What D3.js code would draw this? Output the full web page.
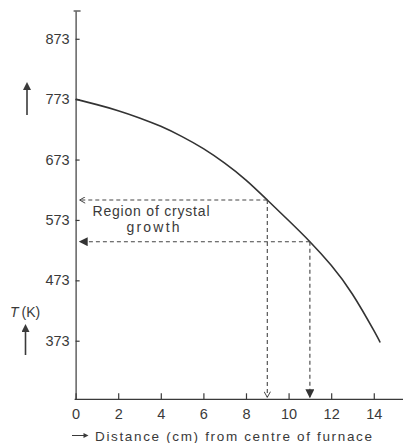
<!DOCTYPE html>
<html>
  <head>
    <meta charset="utf-8">
    <style>
    body { margin: 0; border: 0; overflow: hidden; background: #fff; }
    text { font-family: "Liberation Sans", Arial, sans-serif; fill: #3a3a3a; }
    .axis path, .axis line { fill: none; stroke: #3a3a3a; stroke-width: 1.2px; }
    .axis text { font-size: 14.5px; }
    .guide { fill: none; stroke: #444; stroke-width: 1.1px; stroke-dasharray: 4,3; }
    </style>
  </head>
  <body>
    <script src="https://cdnjs.cloudflare.com/ajax/libs/d3/7.8.5/d3.min.js"></script>
    <script>
// temperature profile
var distance = [0, 1, 2, 3, 4, 5, 6, 7, 8, 9, 10, 11, 12, 13, 14, 14.3];
var temperature = [773, 764, 754, 742, 728, 711, 691, 667, 639, 606, 572, 537, 498, 450, 390, 370];

var xTicks = [0, 2, 4, 6, 8, 10, 12, 14];
var yTicks = [373, 473, 573, 673, 773, 873];

// region of crystal growth: distance, temperature, arrow style
var growthDist = [9, 11];
var growthTemp = [606, 537];
var growthHead = ["open", "filled"];

var width = 403, height = 443;

var x = d3.scaleLinear().domain([0, 15.4]).range([75.6, 403.6]),
    y = d3.scaleLinear().domain([276, 919]).range([399.3, 11]);

var svg = d3.select("body").append("svg")
    .attr("width", width)
    .attr("height", height);

var defs = svg.append("defs");
defs.append("marker")
    .attr("id", "open")
    .attr("viewBox", "0 0 10 10")
    .attr("refX", 9).attr("refY", 5)
    .attr("markerWidth", 7).attr("markerHeight", 7)
    .attr("markerUnits", "userSpaceOnUse")
    .attr("orient", "auto")
  .append("path")
    .attr("d", "M1,0.5 L9,5 L1,9.5")
    .attr("fill", "none").attr("stroke", "#333").attr("stroke-width", 1.3);
defs.append("marker")
    .attr("id", "filled")
    .attr("viewBox", "0 0 10 10")
    .attr("refX", 9).attr("refY", 5)
    .attr("markerWidth", 9).attr("markerHeight", 9)
    .attr("markerUnits", "userSpaceOnUse")
    .attr("orient", "auto")
  .append("path")
    .attr("d", "M0,0 L10,5 L0,10 Z")
    .attr("fill", "#333");
defs.append("marker")
    .attr("id", "solid")
    .attr("viewBox", "0 0 10 10")
    .attr("refX", 5).attr("refY", 5)
    .attr("markerWidth", 8).attr("markerHeight", 8)
    .attr("markerUnits", "userSpaceOnUse")
    .attr("orient", "auto")
  .append("path")
    .attr("d", "M0,0 L10,5 L0,10 Z")
    .attr("fill", "#3a3a3a");
defs.append("marker")
    .attr("id", "small")
    .attr("viewBox", "0 0 10 10")
    .attr("refX", 5).attr("refY", 5)
    .attr("markerWidth", 6).attr("markerHeight", 5)
    .attr("markerUnits", "userSpaceOnUse")
    .attr("orient", "auto")
  .append("path")
    .attr("d", "M0,0 L10,5 L0,10 Z")
    .attr("fill", "#3a3a3a");

// axes
var xAxis = d3.axisBottom(x)
    .tickValues(xTicks)
    .tickSizeInner(-6)
    .tickSizeOuter(0)
    .tickPadding(9);

var yAxis = d3.axisLeft(y)
    .tickValues(yTicks)
    .tickSizeInner(-4)
    .tickSizeOuter(0)
    .tickPadding(6);

svg.append("g")
    .attr("class", "axis")
    .attr("transform", "translate(0," + y.range()[0] + ")")
    .call(xAxis)
    .call(g => g.select(".domain").attr("d", "M" + (x(0) - 1) + ",0H" + x.range()[1]));

svg.append("g")
    .attr("class", "axis")
    .attr("transform", "translate(" + x(0) + ",0)")
    .call(yAxis)
    .call(g => g.append("line")
        .attr("x1", -2).attr("x2", 5)
        .attr("y1", y.range()[1]).attr("y2", y.range()[1]));

svg.selectAll(".axis .tick text").attr("fill", "#3a3a3a");

// curve
var line = d3.line()
    .x(function(d, i) { return x(d); })
    .y(function(d, i) { return y(temperature[i]); })
    .curve(d3.curveNatural);

svg.append("path")
    .datum(distance)
    .attr("d", line)
    .attr("fill", "none")
    .attr("stroke", "#333")
    .attr("stroke-width", 1.6);

// dashed guides
growthDist.forEach(function(d, i) {
  svg.append("line")
      .attr("class", "guide")
      .attr("x1", x(d)).attr("y1", y(growthTemp[i]))
      .attr("x2", x(0) + 4).attr("y2", y(growthTemp[i]))
      .attr("marker-end", "url(#" + growthHead[i] + ")");
  svg.append("line")
      .attr("class", "guide")
      .attr("x1", x(d)).attr("y1", y(growthTemp[i]))
      .attr("x2", x(d)).attr("y2", y.range()[0] - 2)
      .attr("marker-end", "url(#" + growthHead[i] + ")");
});

svg.append("text")
    .attr("x", 92.5).attr("y", 215.5)
    .attr("textLength", 117).attr("lengthAdjust", "spacing")
    .style("font-size", "14px")
    .text("Region of crystal");
svg.append("text")
    .attr("x", 126.5).attr("y", 232)
    .attr("textLength", 53).attr("lengthAdjust", "spacing")
    .style("font-size", "14px")
    .text("growth");

// y label and arrows
svg.append("line")
    .attr("x1", 27).attr("x2", 27).attr("y1", 115).attr("y2", 86)
    .attr("stroke", "#3a3a3a").attr("stroke-width", 1.6)
    .attr("marker-end", "url(#solid)");
svg.append("line")
    .attr("x1", 25.5).attr("x2", 25.5).attr("y1", 355).attr("y2", 328)
    .attr("stroke", "#3a3a3a").attr("stroke-width", 1.6)
    .attr("marker-end", "url(#solid)");

var tLabel = svg.append("text")
    .attr("x", 10).attr("y", 317)
    .style("font-size", "14px");
tLabel.append("tspan").style("font-style", "italic").text("T");
tLabel.append("tspan").attr("dx", 3).text("(K)");

// x label
svg.append("line")
    .attr("x1", 72).attr("x2", 86).attr("y1", 435.5).attr("y2", 435.5)
    .attr("stroke", "#3a3a3a").attr("stroke-width", 1)
    .attr("marker-end", "url(#small)");
svg.append("text")
    .attr("x", 95).attr("y", 440.5)
    .attr("textLength", 277).attr("lengthAdjust", "spacing")
    .style("font-size", "13.5px")
    .text("Distance (cm) from centre of furnace");
    </script>
  </body>
</html>
